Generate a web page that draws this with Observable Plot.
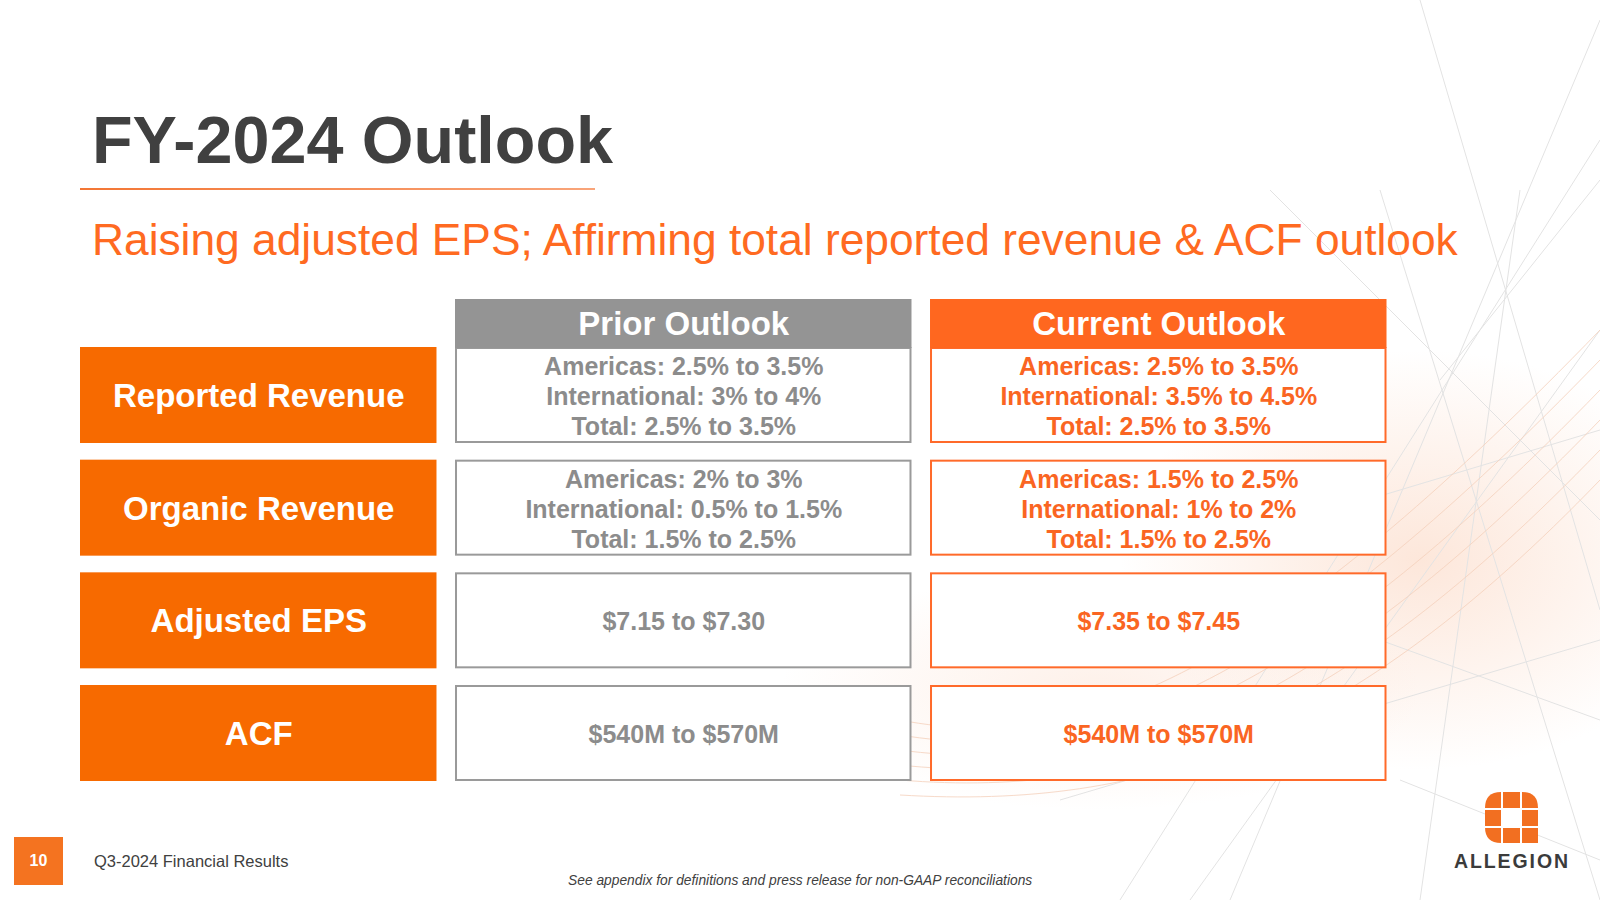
<!DOCTYPE html>
<html>
<head>
<meta charset="utf-8">
<script src="https://cdn.jsdelivr.net/npm/d3@7"></script>
<script src="https://cdn.jsdelivr.net/npm/@observablehq/plot@0.6"></script>
<style>
html, body { margin: 0; padding: 0; background: #fff; }
#slide { position: relative; width: 1600px; height: 900px; overflow: hidden; background: #fff;
  font-family: "Liberation Sans", Arial, Helvetica, sans-serif; }
.abs { position: absolute; white-space: nowrap; line-height: 1; }
#title { left: 92px; top: 107px; font-size: 66.5px; font-weight: bold; color: #404040; }
#rule { left: 80px; top: 188px; width: 515px; height: 1.5px; background: linear-gradient(90deg, #F37634, #F9A57A); }
#subtitle { left: 92px; top: 218px; font-size: 44.3px; color: #FF6A21; }
#page { left: 14px; top: 837px; width: 49px; height: 48px; background: #F47320; color: #fff; font-weight: bold;
  font-size: 16px; display: flex; align-items: center; justify-content: center; line-height: 48px; }
#footer { left: 94px; top: 853px; font-size: 16.5px; color: #404040; }
#note { left: 568px; top: 874px; font-size: 13.8px; font-style: italic; color: #404040; }
#brand { left: 1454px; top: 852px; font-size: 19.5px; font-weight: bold; color: #3b3b3b; letter-spacing: 1.9px; }
#chart { position: absolute; left: 0; top: 0; }
#bg { position: absolute; left: 0; top: 0; }
#logo { position: absolute; left: 1485px; top: 792px; }
</style>
</head>
<body>
<div id="slide">
  <svg id="bg" width="1600" height="900">
    <defs>
      <radialGradient id="glow" cx="0.5" cy="0.5" r="0.5">
        <stop offset="0" stop-color="#FBD3BC" stop-opacity="0.55"/>
        <stop offset="1" stop-color="#FBD3BC" stop-opacity="0"/>
      </radialGradient>
    </defs>
    <ellipse cx="1420" cy="560" rx="300" ry="210" fill="url(#glow)"/>
    <ellipse cx="1100" cy="690" rx="320" ry="120" fill="url(#glow)" opacity="0.6"/>
    <g stroke="#e3e3e3" stroke-width="1" fill="none">
      <line x1="1600" y1="20" x2="1230" y2="900"/>
      <line x1="1600" y1="140" x2="1120" y2="900"/>
      <line x1="1420" y1="0" x2="1600" y2="610"/>
      <line x1="1270" y1="190" x2="1600" y2="520"/>
      <line x1="1380" y1="190" x2="1600" y2="900"/>
      <line x1="1300" y1="520" x2="1600" y2="430"/>
      <line x1="1380" y1="640" x2="1600" y2="720"/>
      <line x1="1400" y1="780" x2="1600" y2="860"/>
      <line x1="1520" y1="190" x2="1420" y2="900"/>
      <line x1="1060" y1="800" x2="1600" y2="640"/>
      <line x1="1190" y1="900" x2="1600" y2="330"/>
      <line x1="1440" y1="380" x2="1600" y2="180"/>
    </g>
    <g stroke="#f6d2bd" stroke-width="1" fill="none" opacity="0.8">
      <path d="M900,720 C1100,760 1300,640 1600,330"/>
      <path d="M900,735 C1110,770 1310,660 1600,360"/>
      <path d="M900,750 C1120,780 1320,680 1600,390"/>
      <path d="M900,765 C1130,790 1330,700 1600,420"/>
      <path d="M900,780 C1140,800 1340,720 1600,450"/>
      <path d="M900,795 C1150,810 1350,740 1600,480"/>
    </g>
  </svg>
  <div id="chart"></div>
  <div class="abs" id="title">FY-2024 Outlook</div>
  <div class="abs" id="rule"></div>
  <div class="abs" id="subtitle">Raising adjusted EPS; Affirming total reported revenue &amp; ACF outlook</div>
  <div class="abs" id="page">10</div>
  <div class="abs" id="footer">Q3-2024 Financial Results</div>
  <div class="abs" id="note">See appendix for definitions and press release for non-GAAP reconciliations</div>
  <svg id="logo" width="54" height="52" viewBox="0 0 54 52">
    <path d="M0,16 Q0,0 16,0 H37 Q53,0 53,16 V51 H16 Q0,51 0,35 Z" fill="#F26F21"/>
    <g fill="#fff">
      <rect x="16" y="0" width="2" height="52"/>
      <rect x="35" y="0" width="2" height="52"/>
      <rect x="0" y="16" width="54" height="2"/>
      <rect x="0" y="34" width="54" height="2"/>
      <rect x="17" y="17" width="19" height="18"/>
    </g>
  </svg>
  <div class="abs" id="brand">ALLEGION</div>
</div>
<script>
// ---- data ----
const rows = ["Reported Revenue", "Organic Revenue", "Adjusted EPS", "ACF"];
const columns = ["Prior Outlook", "Current Outlook"];
const priorOutlook = [
  "Americas: 2.5% to 3.5%\nInternational: 3% to 4%\nTotal: 2.5% to 3.5%",
  "Americas: 2% to 3%\nInternational: 0.5% to 1.5%\nTotal: 1.5% to 2.5%",
  "$7.15 to $7.30",
  "$540M to $570M"
];
const currentOutlook = [
  "Americas: 2.5% to 3.5%\nInternational: 3.5% to 4.5%\nTotal: 2.5% to 3.5%",
  "Americas: 1.5% to 2.5%\nInternational: 1% to 2%\nTotal: 1.5% to 2.5%",
  "$7.35 to $7.45",
  "$540M to $570M"
];

// ---- styles ----
const LABEL_ORANGE = "#F76A00";
const CUR_HEADER = "#FF671F";
const CUR_STROKE = "#FF6A2A";
const CUR_TEXT = "#FA6522";
const PRI_HEADER = "#949494";
const PRI_STROKE = "#9A9A9A";
const PRI_TEXT = "#8C8C8C";

const prior = rows.map((r, i) => ({row: r, col: columns[0], text: priorOutlook[i]}));
const current = rows.map((r, i) => ({row: r, col: columns[1], text: currentOutlook[i]}));

const plot = Plot.plot({
  width: 1600,
  height: 900,
  margin: 0,
  x: {type: "band", domain: ["Metric", ...columns], range: [-20, 1386.5], paddingInner: 0.039, paddingOuter: 0, round: false, axis: null},
  y: {type: "band", domain: rows, range: [347, 781], paddingInner: 0.148, paddingOuter: 0, round: false, axis: null},
  style: {background: "transparent", fontFamily: "'Liberation Sans', Arial, Helvetica, sans-serif", overflow: "visible"},
  marks: [
    // row labels
    Plot.cell(rows, {x: () => "Metric", y: d => d, fill: LABEL_ORANGE, insetLeft: 100}),
    Plot.text(rows, {x: () => "Metric", y: d => d, text: d => d, dx: 50, dy: 1, fill: "white", fontSize: 33, fontWeight: "bold"}),
    // value boxes
    Plot.cell(prior, {x: "col", y: "row", fill: "white", stroke: PRI_STROKE, strokeWidth: 2, inset: 1}),
    Plot.cell(current, {x: "col", y: "row", fill: "white", stroke: CUR_STROKE, strokeWidth: 2, inset: 1}),
    // column headers (sit directly above the first row)
    Plot.cell([columns[0]], {x: d => d, y: () => rows[0], fill: PRI_HEADER, insetTop: -48, insetBottom: 95}),
    Plot.cell([columns[1]], {x: d => d, y: () => rows[0], fill: CUR_HEADER, insetTop: -48, insetBottom: 95}),
    Plot.text(columns, {x: d => d, y: () => rows[0], text: d => d, dy: -71, fill: "white", fontSize: 33, fontWeight: "bold"}),
    // values
    Plot.text(prior, {x: "col", y: "row", text: "text", fill: PRI_TEXT, fontSize: 25, fontWeight: "bold", lineHeight: 1.2}),
    Plot.text(current, {x: "col", y: "row", text: "text", fill: CUR_TEXT, fontSize: 25, fontWeight: "bold", lineHeight: 1.2})
  ]
});
document.getElementById("chart").appendChild(plot);
</script>
</body>
</html>
